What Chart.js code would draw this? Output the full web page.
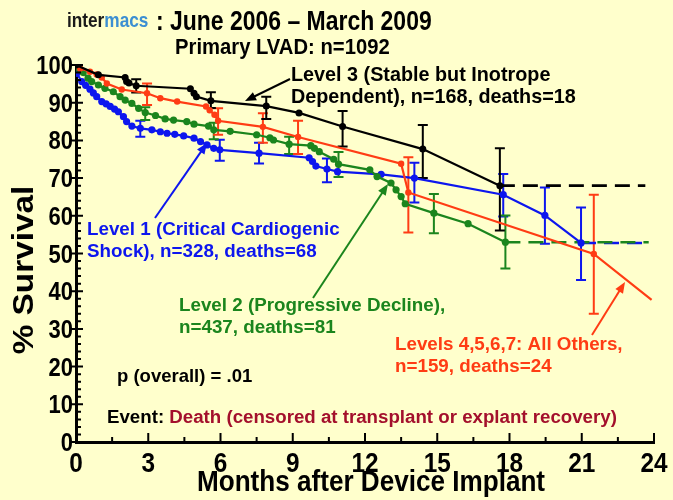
<!DOCTYPE html>
<html>
<head>
<meta charset="utf-8">
<script src="https://cdn.jsdelivr.net/npm/chart.js@4.4.0/dist/chart.umd.min.js"></script>
<style>
  html, body { margin: 0; padding: 0; background: #ffffcc; }
  #wrap { width: 673px; height: 500px; }
</style>
</head>
<body>
<div id="wrap"><canvas id="survival" width="673" height="500"></canvas></div>
<script>
// Values (months after implant, % survival).
const level1Months = [0, 0.03, 0.24, 0.4, 0.58, 0.72, 0.86, 1.07, 1.25, 1.42, 1.6, 1.76, 1.97, 2.1, 2.32, 2.67, 3.15, 3.5, 3.78, 4.1, 4.47, 4.9, 5.17, 5.44, 5.72, 5.97, 7.6, 9.68, 9.82, 9.96, 10.42, 10.86, 12.67, 14.05, 17.74, 19.47, 20.97];
const level1Survival = [100, 97.8, 95.6, 94.6, 93.6, 92.6, 91.6, 90.3, 89.7, 89, 88.3, 87.6, 86.3, 85, 83.8, 83.2, 82.8, 82.3, 81.9, 81.6, 81.2, 80.6, 79.7, 78.8, 77.9, 77.5, 76.6, 75.4, 74.4, 73.2, 72.4, 71.7, 71, 70, 65.6, 60.1, 52.8];

const level2Months = [0, 0.1, 0.3, 0.5, 0.65, 0.93, 1.2, 1.55, 1.83, 2.04, 2.32, 2.6, 2.875, 3.3, 3.7, 4.05, 4.6, 4.9, 5.5, 5.72, 6.4, 7.5, 8.05, 8.2, 8.85, 9.75, 9.9, 10.1, 10.7, 10.9, 12.2, 12.5, 13.08, 13.29, 13.5, 13.67, 14.86, 16.28, 17.83];
const level2Survival = [100, 99.1, 98, 96.5, 95.6, 94.7, 93.8, 92.9, 91.6, 90.7, 89.8, 88.5, 87.4, 86.6, 85.7, 85.4, 85, 84.3, 83.8, 82.8, 82.4, 81.5, 80.7, 80.1, 79, 78.6, 77.9, 77, 75, 73.7, 72.2, 70.4, 68.7, 66.9, 65.1, 63.2, 60.7, 57.9, 53];

const level3Months = [0, 0.93, 2.04, 2.1, 2.2, 2.5, 4.75, 4.9, 5.0, 5.6, 7.9, 9.26, 11.07, 14.4, 17.6];
const level3Survival = [100, 97.4, 96.7, 95.6, 95.2, 94.5, 93.7, 92.5, 91.6, 90.5, 89.1, 87.3, 83.7, 77.7, 68.0];

const level4Months = [0, 0.17, 0.58, 0.86, 1.07, 1.28, 1.9, 2.95, 3.5, 4.2, 5.4, 5.55, 5.75, 5.9, 7.76, 9.22, 13.5, 13.8, 21.5, 23.9];
const level4Survival = [100, 99.1, 98.2, 97.5, 96.7, 95.1, 93.5, 92.5, 91.2, 90.3, 89, 88, 86.8, 85.2, 83.6, 80.9, 73.8, 66.2, 49.9, 37.7];

// Flat dashed tails after the last event.
const level1TailMonths = [20.97, 23.83];
const level1TailSurvival = [52.8, 52.8];
const level2TailMonths = [17.83, 23.78];
const level2TailSurvival = [53, 53];
const level3TailMonths = [17.6, 23.64];
const level3TailSurvival = [68, 68];

// Confidence limits drawn as error bars.
const level1ErrMonths = [2.67, 5.97, 7.6, 10.42, 14.05, 17.74, 19.47, 20.97];
const level1ErrLow = [81, 74.6, 73.9, 68.9, 63.5, 59.8, 52.6, 43];
const level1ErrHigh = [85.2, 80.2, 79.4, 75.2, 74.1, 71.1, 67.5, 62.2];

const level2ErrMonths = [2.875, 5.72, 8.85, 10.9, 14.86, 17.83];
const level2ErrLow = [85.4, 80.3, 76.4, 70.3, 55.4, 46];
const level2ErrHigh = [88.8, 84.7, 81.0, 76.9, 65.8, 60.1];

const level3ErrMonths = [2.5, 5.6, 7.9, 11.07, 14.4, 17.6];
const level3ErrLow = [92.7, 88.6, 85.7, 78.4, 70, 56.1];
const level3ErrHigh = [96.2, 92.8, 91.6, 87.8, 84.1, 77.9];

const level4ErrMonths = [2.95, 5.9, 7.76, 9.22, 13.8, 21.5];
const level4ErrLow = [89.4, 81.5, 79.4, 76.4, 55.6, 34];
const level4ErrHigh = [95.1, 88.5, 87.2, 85.2, 75.5, 65.6];

const monthTicks = [0, 3, 6, 9, 12, 15, 18, 21, 24];
const survivalTicks = [0, 10, 20, 30, 40, 50, 60, 70, 80, 90, 100];

const BLUE = '#0d16ee';
const GREEN = '#1b851d';
const RED = '#ff3c14';
const BLACK = '#000000';
const SANS = '"Liberation Sans", Arial, sans-serif';

const toPoints = (months, values) => months.map((m, i) => ({ x: m, y: values[i] }));

const errorBars = [
  { color: BLUE, months: level1ErrMonths, low: level1ErrLow, high: level1ErrHigh },
  { color: GREEN, months: level2ErrMonths, low: level2ErrLow, high: level2ErrHigh },
  { color: RED, months: level4ErrMonths, low: level4ErrLow, high: level4ErrHigh },
  { color: BLACK, months: level3ErrMonths, low: level3ErrLow, high: level3ErrHigh }
];

const curve = (data, color, radius) => ({
  data,
  showLine: true,
  borderColor: color,
  backgroundColor: color,
  borderWidth: 2.2,
  pointRadius: radius,
  pointHoverRadius: radius,
  pointBorderWidth: 0
});

const tail = (data, color) => ({
  data,
  showLine: true,
  borderColor: color,
  borderWidth: 2.6,
  borderDash: [15, 8],
  pointRadius: 0
});

// Bold text with optional horizontal squeeze (the original uses a condensed face).
const drawText = (ctx, text, x, y, size, sx = 1, align = 'left', baseline = 'alphabetic') => {
  ctx.save();
  ctx.translate(x, y);
  ctx.scale(sx, 1);
  ctx.font = `bold ${size}px ${SANS}`;
  ctx.textAlign = align;
  ctx.textBaseline = baseline;
  ctx.fillText(text, 0, 0);
  const w = ctx.measureText(text).width * sx;
  ctx.restore();
  return w;
};

const arrow = (ctx, x1, y1, x2, y2, color) => {
  const a = Math.atan2(y2 - y1, x2 - x1);
  ctx.strokeStyle = color;
  ctx.fillStyle = color;
  ctx.lineWidth = 2;
  ctx.beginPath();
  ctx.moveTo(x1, y1);
  ctx.lineTo(x2 - 8 * Math.cos(a), y2 - 8 * Math.sin(a));
  ctx.stroke();
  ctx.beginPath();
  ctx.moveTo(x2, y2);
  ctx.lineTo(x2 - 11 * Math.cos(a) + 4.5 * Math.sin(a), y2 - 11 * Math.sin(a) - 4.5 * Math.cos(a));
  ctx.lineTo(x2 - 11 * Math.cos(a) - 4.5 * Math.sin(a), y2 - 11 * Math.sin(a) + 4.5 * Math.cos(a));
  ctx.closePath();
  ctx.fill();
};

const sketchPlugin = {
  id: 'sketch',
  beforeDraw(chart) {
    const { ctx, width, height } = chart;
    ctx.save();
    ctx.fillStyle = '#ffffcc';
    ctx.fillRect(0, 0, width, height);
    ctx.restore();
  },
  beforeDatasetsDraw(chart) {
    const { ctx, scales: { x, y } } = chart;
    ctx.save();
    ctx.lineWidth = 2;
    errorBars.forEach(set => {
      ctx.strokeStyle = set.color;
      set.months.forEach((m, i) => {
        const px = x.getPixelForValue(m);
        const lo = y.getPixelForValue(set.low[i]);
        const hi = y.getPixelForValue(set.high[i]);
        ctx.beginPath();
        ctx.moveTo(px, lo); ctx.lineTo(px, hi);
        ctx.moveTo(px - 5, lo); ctx.lineTo(px + 5, lo);
        ctx.moveTo(px - 5, hi); ctx.lineTo(px + 5, hi);
        ctx.stroke();
      });
    });
    ctx.restore();
  },
  afterDraw(chart) {
    const { ctx, chartArea, scales: { x, y } } = chart;
    ctx.save();

    // inward tick marks on both axes
    ctx.strokeStyle = BLACK;
    ctx.lineWidth = 2;
    ctx.beginPath();
    for (let v = 0; v <= 100; v += 2) {
      const py = y.getPixelForValue(v);
      const major = v % 10 === 0;
      ctx.moveTo(chartArea.left - (major ? 4 : 0), py);
      ctx.lineTo(chartArea.left + (major ? 7 : 5), py);
    }
    for (let m = 0; m <= 24; m += 1.5) {
      const px = x.getPixelForValue(m);
      const major = m % 3 === 0;
      ctx.moveTo(px, chartArea.bottom + 2);
      ctx.lineTo(px, chartArea.bottom - (major ? 9 : 5));
    }
    ctx.stroke();

    // tick labels and axis titles
    ctx.fillStyle = BLACK;
    survivalTicks.forEach(v => {
      drawText(ctx, String(v), chartArea.left - 3, y.getPixelForValue(v) + 9, 25, 0.88, 'right');
    });
    monthTicks.forEach(m => {
      drawText(ctx, String(m), x.getPixelForValue(m), 472, 28, 0.87, 'center');
    });
    drawText(ctx, 'Months after Device Implant', 371, 491, 30, 0.87, 'center');
    ctx.save();
    ctx.translate(25, 270);
    ctx.rotate(-Math.PI / 2);
    drawText(ctx, '% Survival', 0, 0, 29, 1.15, 'center', 'middle');
    ctx.restore();

    // header
    ctx.fillStyle = '#1a1a1a';
    const interW = drawText(ctx, 'inter', 67, 27, 21, 0.82);
    ctx.fillStyle = '#3c8fd2';
    drawText(ctx, 'macs', 67 + interW, 27, 21, 0.82);
    ctx.fillStyle = BLACK;
    drawText(ctx, ': June 2006 \u2013 March 2009', 156, 30, 28, 0.82);
    drawText(ctx, 'Primary LVAD: n=1092', 175, 54, 22, 0.92);

    // group labels
    ctx.fillStyle = BLACK;
    drawText(ctx, 'Level 3 (Stable but Inotrope', 291, 76, 19.8, 1, 'left', 'middle');
    drawText(ctx, 'Dependent), n=168, deaths=18', 291, 98, 19.8, 1, 'left', 'middle');
    ctx.fillStyle = BLUE;
    drawText(ctx, 'Level 1 (Critical Cardiogenic', 87, 230, 18.8, 1, 'left', 'middle');
    drawText(ctx, 'Shock), n=328, deaths=68', 87, 252, 18.8, 1, 'left', 'middle');
    ctx.fillStyle = GREEN;
    drawText(ctx, 'Level 2 (Progressive Decline),', 179, 306, 18.8, 1, 'left', 'middle');
    drawText(ctx, 'n=437, deaths=81', 179, 328, 18.8, 1, 'left', 'middle');
    ctx.fillStyle = RED;
    drawText(ctx, 'Levels 4,5,6,7: All Others,', 395, 345, 18.8, 1, 'left', 'middle');
    drawText(ctx, 'n=159, deaths=24', 395, 367, 18.8, 1, 'left', 'middle');

    ctx.fillStyle = BLACK;
    drawText(ctx, 'p (overall) = .01', 117, 377, 18.5, 1, 'left', 'middle');
    const eventW = drawText(ctx, 'Event: ', 107, 418, 18.7, 1, 'left', 'middle');
    ctx.fillStyle = '#a3102c';
    drawText(ctx, 'Death (censored at transplant or explant recovery)', 107 + eventW, 418, 18.7, 1, 'left', 'middle');

    arrow(ctx, 290, 79, 245, 101, BLACK);
    arrow(ctx, 155, 218, 207, 143, BLUE);
    arrow(ctx, 313, 298, 388, 184, GREEN);
    arrow(ctx, 592, 335, 625, 282, RED);

    ctx.restore();
  }
};

const lastRed = level4Months.length - 1;

new Chart(document.getElementById('survival'), {
  type: 'scatter',
  data: {
    datasets: [
      curve(toPoints(level3Months, level3Survival), BLACK, 3.5),
      curve(toPoints(level4Months, level4Survival), RED, ctx => (ctx.dataIndex === lastRed ? 0 : 3.2)),
      curve(toPoints(level2Months, level2Survival), GREEN, 3.6),
      curve(toPoints(level1Months, level1Survival), BLUE, 3.6),
      tail(toPoints(level3TailMonths, level3TailSurvival), BLACK),
      tail(toPoints(level2TailMonths, level2TailSurvival), GREEN),
      tail(toPoints(level1TailMonths, level1TailSurvival), BLUE)
    ]
  },
  options: {
    responsive: false,
    animation: false,
    layout: { padding: { left: 0, top: 65, right: 19, bottom: 0 } },
    plugins: { legend: { display: false }, tooltip: { enabled: false } },
    scales: {
      x: {
        type: 'linear',
        min: 0,
        max: 24,
        afterFit: s => { s.height = 58; },
        afterBuildTicks: s => { s.ticks = monthTicks.map(v => ({ value: v })); },
        grid: { display: false, drawTicks: false },
        border: { display: true, color: BLACK, width: 3 },
        ticks: { display: false }
      },
      y: {
        type: 'linear',
        min: 0,
        max: 100,
        afterFit: s => { s.width = 76; },
        afterBuildTicks: s => { s.ticks = survivalTicks.map(v => ({ value: v })); },
        grid: { display: false, drawTicks: false },
        border: { display: true, color: BLACK, width: 3 },
        ticks: { display: false }
      }
    }
  },
  plugins: [sketchPlugin]
});
</script>
</body>
</html>
